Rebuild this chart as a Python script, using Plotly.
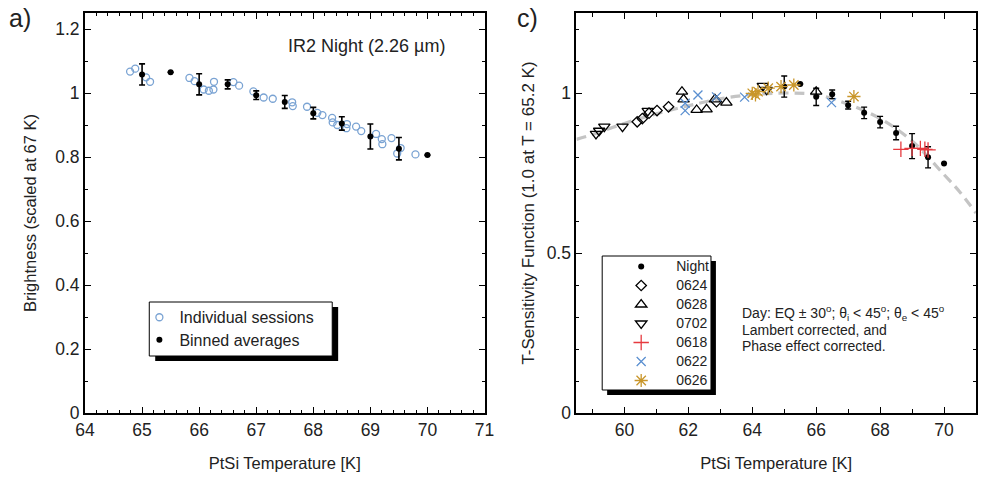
import plotly.graph_objects as go

# ---- panel a) IR2 night brightness vs PtSi temperature ----
sess_T = [64.79, 64.88, 65.07, 65.14, 65.83, 65.92, 66.08, 66.17, 66.25, 66.26,
          66.60, 66.70, 66.95, 67.13, 67.29, 67.63, 67.64, 67.89, 68.07, 68.16,
          68.33, 68.34, 68.42, 68.58, 68.59, 68.75, 68.84, 69.10, 69.20, 69.21,
          69.37, 69.53, 69.47, 69.79]
sess_B = [1.067, 1.076, 1.049, 1.035, 1.047, 1.037, 1.011, 1.007, 1.011, 1.035,
          1.034, 1.023, 1.005, 0.986, 0.982, 0.971, 0.959, 0.957, 0.938, 0.931,
          0.922, 0.908, 0.900, 0.890, 0.903, 0.895, 0.881, 0.872, 0.856, 0.840,
          0.859, 0.828, 0.811, 0.808]

bin_T = [65.0, 65.5, 66.0, 66.5, 67.0, 67.5, 68.0, 68.5, 69.0, 69.5, 70.0]
bin_B = [1.058, 1.065, 1.027, 1.027, 0.993, 0.972, 0.937, 0.905, 0.864, 0.826, 0.806]
bin_E = [0.033, 0.0, 0.033, 0.014, 0.0135, 0.020, 0.018, 0.021, 0.039, 0.035, 0.0]

# ---- panel c) T-sensitivity function ----
night_T = bin_T
night_S = [1.020, 1.028, 0.988, 0.996, 0.962, 0.938, 0.909, 0.875, 0.834, 0.799, 0.780]
night_E = [0.033, 0.0, 0.027, 0.0135, 0.012, 0.018, 0.018, 0.021, 0.039, 0.033, 0.0]

d0624_T = [60.40, 60.56, 60.77, 61.02, 61.38, 62.88]
d0624_S = [0.910, 0.920, 0.937, 0.945, 0.957, 0.973]

d0628_T = [61.80, 61.85, 62.26, 62.57, 62.83, 63.19, 66.00]
d0628_S = [1.004, 0.980, 0.947, 0.949, 0.980, 0.970, 1.004]

d0702_T = [59.11, 59.21, 59.37, 59.94, 60.73, 64.33, 64.45]
d0702_S = [0.872, 0.882, 0.895, 0.895, 0.944, 1.022, 1.010]

d0618_T = [68.65, 69.00, 69.26, 69.40, 69.50]
d0618_S = [0.824, 0.827, 0.827, 0.824, 0.822]

d0622_T = [61.90, 61.90, 62.30, 62.88, 63.76, 66.48]
d0622_S = [0.968, 0.945, 0.994, 0.988, 0.987, 0.970]

d0626_T = [64.00, 64.10, 64.18, 64.50, 64.90, 65.30, 67.18]
d0626_S = [0.999, 0.994, 1.004, 1.015, 1.020, 1.025, 0.989]

fit_T = [58.5, 59.0, 60.0, 61.0, 62.0, 63.0, 64.0, 65.2, 66.0, 67.0, 68.0, 69.0, 70.0, 70.5, 71.0]
fit_S = [0.855, 0.870, 0.905, 0.935, 0.960, 0.982, 0.995, 1.000, 0.995, 0.965, 0.920, 0.850, 0.745, 0.690, 0.625]

FONT = "Liberation Sans, Arial, sans-serif"
INK = "#222222"
W, H = 992, 477
ML, MR, MT, MB = 85, 6, 13, 64
PW, PH = W - ML - MR, H - MT - MB


def px_x(x):
    return (x - ML) / PW


def px_y(y):
    return 1 - (y - MT) / PH


def sized(label, size):
    return f'<span style="font-size:{size}px">{label}</span>'


fig = go.Figure()

fig.add_trace(go.Scatter(
    x=sess_T, y=sess_B, mode="markers", name=sized("Individual sessions", 16),
    marker=dict(symbol="circle-open", size=7, color="#7aa3d3", line=dict(width=1.3)),
    xaxis="x", yaxis="y", legend="legend"))
fig.add_trace(go.Scatter(
    x=bin_T, y=bin_B, mode="markers", name=sized("Binned averages", 16),
    marker=dict(symbol="circle", size=6, color="black"),
    error_y=dict(type="data", array=bin_E, color="black", thickness=1.6, width=3),
    xaxis="x", yaxis="y", legend="legend"))

fig.add_trace(go.Scatter(
    x=fit_T, y=fit_S, mode="lines", showlegend=False,
    line=dict(color="#c4c4c4", width=3.2, dash="10px,6px", shape="spline", smoothing=1.0),
    xaxis="x2", yaxis="y2"))

day_sets = [
    ("0624", d0624_T, d0624_S, "diamond-open", 8, "black"),
    ("0628", d0628_T, d0628_S, "triangle-up-open", 10, "black"),
    ("0702", d0702_T, d0702_S, "triangle-down-open", 10, "black"),
    ("0618", d0618_T, d0618_S, "cross-thin-open", 11, "#e63a3f"),
    ("0622", d0622_T, d0622_S, "x-thin-open", 9, "#5a8fd0"),
    ("0626", d0626_T, d0626_S, "asterisk-open", 11, "#c9962a"),
]

fig.add_trace(go.Scatter(
    x=night_T, y=night_S, mode="markers", name=sized("Night", 14),
    marker=dict(symbol="circle", size=6, color="black"),
    error_y=dict(type="data", array=night_E, color="black", thickness=1.4, width=3),
    xaxis="x2", yaxis="y2", legend="legend2"))
for name, tx, sy, sym, sz, col in day_sets:
    fig.add_trace(go.Scatter(
        x=tx, y=sy, mode="markers", name=sized(name, 14),
        marker=dict(symbol=sym, size=sz, color=col, line=dict(color=col, width=1.3)),
        xaxis="x2", yaxis="y2", legend="legend2"))

axis_common = dict(
    showline=True, linecolor="black", linewidth=2, mirror="ticks",
    ticks="inside", ticklen=6, tickwidth=1.3, tickcolor="black",
    showgrid=False, zeroline=False,
    tickfont=dict(family=FONT, size=17.5, color=INK),
)

fig.update_layout(
    width=W, height=H,
    margin=dict(l=ML, r=MR, t=MT, b=MB),
    paper_bgcolor="white", plot_bgcolor="white",
    font=dict(family=FONT, color=INK),
    xaxis=dict(domain=[0, px_x(489)], range=[64, 71], dtick=1, anchor="y",
               minor=dict(dtick=0.2, ticklen=3, tickwidth=1, ticks="inside", tickcolor="black"),
               title=dict(text="PtSi Temperature [K]", font=dict(size=16.5), standoff=18),
               **axis_common),
    yaxis=dict(domain=[0, 1], range=[0, 1.25], dtick=0.2, anchor="x",
               minor=dict(dtick=0.1, ticklen=3, tickwidth=1, ticks="inside", tickcolor="black"),
               title=dict(text="Brightness (scaled at 67 K)", font=dict(size=16.5), standoff=14),
               **axis_common),
    xaxis2=dict(domain=[px_x(582), 1], range=[58.5, 71], dtick=2, tick0=60, anchor="y2",
                minor=dict(dtick=1, ticklen=4, tickwidth=1, ticks="inside", tickcolor="black"),
                title=dict(text="PtSi Temperature [K]", font=dict(size=16.5), standoff=18),
                **axis_common),
    yaxis2=dict(domain=[0, 1], range=[0, 1.25], dtick=0.5, anchor="x2",
                minor=dict(dtick=0.1, ticklen=3, tickwidth=1, ticks="inside", tickcolor="black"),
                title=dict(text="T-Sensitivity Function (1.0 at T = 65.2 K)", font=dict(size=17), standoff=8),
                **axis_common),
    # legend entries float over hand-drawn framed boxes (see shapes below)
    legend=dict(x=px_x(140), y=px_y(301), xanchor="left", yanchor="top",
                bgcolor="rgba(0,0,0,0)", borderwidth=0,
                font=dict(family=FONT, size=15, color=INK), itemsizing="trace",
                tracegroupgap=0),
    legend2=dict(x=px_x(609), y=px_y(252), xanchor="left", yanchor="top",
                 bgcolor="rgba(0,0,0,0)", borderwidth=0,
                 font=dict(family=FONT, size=11, color=INK), itemsizing="trace",
                 itemwidth=60, indentation=3, tracegroupgap=0),
    showlegend=True,
)

# framed legend boxes with a solid drop shadow
legend_boxes = [(150, 302, 335, 356, 6, 5), (608, 256, 718, 390, 5, 5)]
for (x0, y0, x1, y1, dx, dy) in legend_boxes:
    fig.add_shape(type="rect", xref="paper", yref="paper",
                  x0=px_x(x0 + dx), x1=px_x(x1 + dx), y0=px_y(y1 + dy), y1=px_y(y0 + dy),
                  fillcolor="black", line=dict(width=0), layer="above")
    fig.add_shape(type="rect", xref="paper", yref="paper",
                  x0=px_x(x0), x1=px_x(x1), y0=px_y(y1), y1=px_y(y0),
                  fillcolor="white", line=dict(color="black", width=1), layer="above")

fig.add_annotation(text="a)", xref="paper", yref="paper", x=px_x(19), y=px_y(18),
                   xanchor="center", yanchor="middle", showarrow=False,
                   font=dict(family=FONT, size=25, color=INK))
fig.add_annotation(text="c)", xref="paper", yref="paper", x=px_x(532), y=px_y(18),
                   xanchor="center", yanchor="middle", showarrow=False,
                   font=dict(family=FONT, size=25, color=INK))
fig.add_annotation(text="IR2 Night (2.26 µm)", xref="paper", yref="paper",
                   x=px_x(451), y=px_y(46), xanchor="right", yanchor="middle", showarrow=False,
                   font=dict(family=FONT, size=18, color=INK))

day_lines = [
    "Day: EQ ± 30<sup>o</sup>; θ<sub>i</sub> &lt; 45<sup>o</sup>; θ<sub>e</sub> &lt; 45<sup>o</sup>",
    "Lambert corrected, and",
    "Phase effect corrected.",
]
for i, line in enumerate(day_lines):
    fig.add_annotation(text=line, xref="paper", yref="paper",
                       x=px_x(747), y=px_y(313 + 16.5 * i), xanchor="left", yanchor="middle",
                       align="left", showarrow=False,
                       font=dict(family=FONT, size=14, color=INK))

fig.write_html("out.html")
